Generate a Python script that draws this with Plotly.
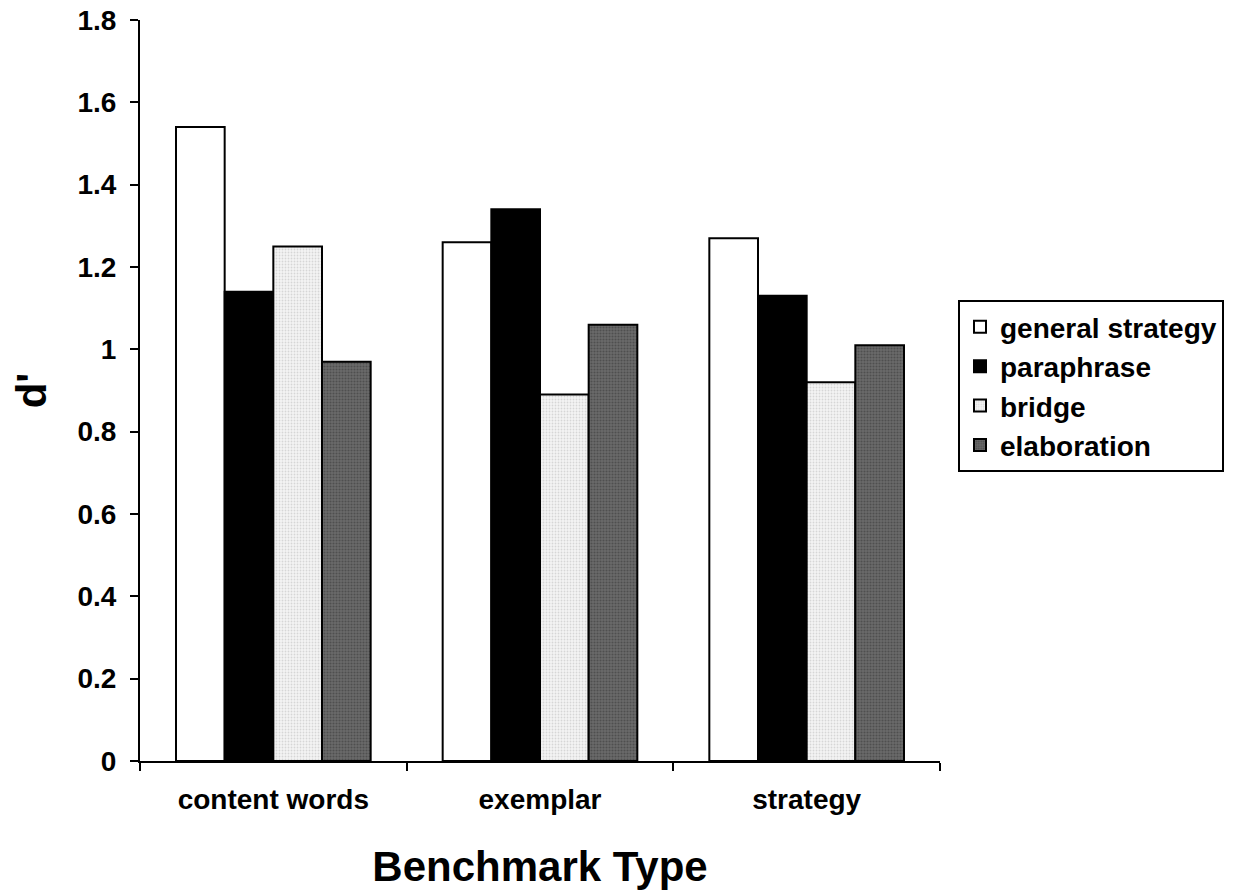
import plotly.graph_objects as go

categories = ["content words", "exemplar", "strategy"]
series_names = ["general strategy", "paraphrase", "bridge", "elaboration"]
general_strategy = [1.54, 1.26, 1.27]
paraphrase = [1.14, 1.34, 1.13]
bridge = [1.25, 0.89, 0.92]
elaboration = [0.97, 1.06, 1.01]
y_ticks = [0, 0.2, 0.4, 0.6, 0.8, 1, 1.2, 1.4, 1.6, 1.8]

styles = [
    dict(color="white", pattern=None),
    dict(color="black", pattern=None),
    dict(color="white", pattern=dict(shape=".", fgcolor="#b8b8b8", bgcolor="#f4f4f4", size=3, solidity=0.3)),
    dict(color="#555555", pattern=dict(shape=".", fgcolor="#333333", bgcolor="#6a6a6a", size=3, solidity=0.4)),
]

fig = go.Figure()
for name, vals, st in zip(series_names, [general_strategy, paraphrase, bridge, elaboration], styles):
    marker = dict(color=st["color"], line=dict(color="black", width=2))
    if st["pattern"]:
        marker["pattern"] = st["pattern"]
    fig.add_trace(go.Bar(name=name, x=categories, y=vals, marker=marker))

font_family = "Arial, Liberation Sans, sans-serif"
fig.update_layout(
    width=1247, height=894,
    margin=dict(l=140, r=307, t=20, b=133),
    plot_bgcolor="white", paper_bgcolor="white",
    barmode="group", bargap=0.27, bargroupgap=0,
    font=dict(family=font_family, color="black", size=28, weight="bold"),
    showlegend=True,
    legend=dict(x=1.0225, y=0.622, xanchor="left", yanchor="top",
                bordercolor="black", borderwidth=2, bgcolor="white",
                font=dict(size=28, weight="bold"), itemwidth=30, tracegroupgap=0),
    xaxis=dict(
        automargin=False,
        showline=True, linecolor="black", linewidth=2,
        ticks="outside", tickson="boundaries", ticklen=8, tickwidth=2, tickcolor="black",
        tickfont=dict(size=28, weight="bold"), ticklabelstandoff=12,
        title=dict(text="Benchmark Type", font=dict(size=42, weight="bold"), standoff=38),
        showgrid=False,
    ),
    yaxis=dict(
        automargin=False,
        range=[0, 1.8], tickvals=y_ticks, ticktext=[f"{v:g}" for v in y_ticks],
        showline=True, linecolor="black", linewidth=2,
        ticks="outside", ticklen=8, tickwidth=2, tickcolor="black",
        tickfont=dict(size=28, weight="bold"), ticklabelstandoff=8,
        title=dict(text="d'", font=dict(size=42, weight="bold"), standoff=18),
        showgrid=False, zeroline=False,
    ),
)

fig.write_html("out.html")
